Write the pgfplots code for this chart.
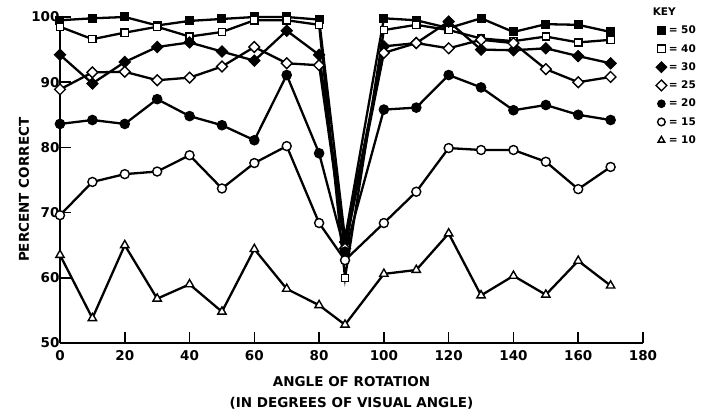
\documentclass[border=0pt]{standalone}
\usepackage{pgfplots}
\pgfplotsset{compat=1.18}
\usepackage{fontspec}
\setmainfont{DejaVu Sans}
\begin{document}
\begin{tikzpicture}
\useasboundingbox (-60pt,-69pt) rectangle (649pt,343pt);
\begin{axis}[
  scale only axis, width=583pt, height=326pt,
  xmin=0, xmax=180, ymin=50, ymax=100,
  axis x line*=bottom, axis y line*=left,
  axis line style={line width=1.8pt, -},
  xtick={0,20,...,180}, ytick={50,60,...,100},
  tick align=inside, major tick length=11pt,
  tick style={line width=1.5pt, black},
  /pgf/number format/assume math mode=true,
  ticklabel style={font=\bfseries\fontsize{13.5}{15}\selectfont},
  xticklabel style={yshift=-4pt},
  yticklabel style={xshift=3pt},
  xlabel={ANGLE OF ROTATION\\(IN DEGREES OF VISUAL ANGLE)},
  xlabel style={align=center, font=\bfseries\fontsize{13.5}{21}\selectfont, at={(axis description cs:0.5,-0.152)}, anchor=center},
  ylabel={PERCENT CORRECT},
  ylabel style={font=\bfseries\fontsize{13.5}{15}\selectfont, at={(axis description cs:-0.062,0.47)}, anchor=center, rotate=0},
  clip=false,
  every axis plot/.append style={line width=2.3pt, black, mark size=4.3pt},
  legend style={draw=none, fill=none, at={(axis description cs:1.022,1.035)}, anchor=north west,
    font=\bfseries\fontsize{10.5}{12}\selectfont, row sep=5pt, inner sep=0pt},
  legend cell align=left,
  legend image code/.code={\draw[#1, mark size=3.8pt] plot[only marks] coordinates {(0.12cm,0cm)};},
]
\addlegendimage{empty legend}
\addlegendentry{\hspace*{-16pt}KEY}
% 50
\addplot[mark=square*, mark options={solid, fill=black, line width=1pt}, mark size=4pt] coordinates {
(0,99.5) (10,99.8) (20,100) (30,98.7) (40,99.4) (50,99.7) (60,100) (70,100) (80,99.6) (88,66)
(100,99.8) (110,99.5) (120,98.3) (130,99.8) (140,97.7) (150,98.9) (160,98.8) (170,97.7)};
\addlegendentry{= 50}
% 40
\addplot[mark=square*, mark options={solid, fill=white, line width=1.4pt}, mark size=3.6pt] coordinates {
(0,98.5) (10,96.6) (20,97.6) (30,98.5) (40,97.0) (50,97.7) (60,99.5) (70,99.5) (80,98.8) (88,60)
(100,98.0) (110,98.8) (120,98.0) (130,96.7) (140,96.3) (150,97.0) (160,96.1) (170,96.5)};
\addlegendentry{= 40}
% 30
\addplot[mark=square*, mark options={solid, fill=black, line width=1pt, rotate=45}, mark size=4pt] coordinates {
(0,94.2) (10,89.8) (20,93.1) (30,95.4) (40,96.1) (50,94.7) (60,93.3) (70,97.9) (80,94.2) (88,65.5)
(100,95.5) (110,96.0) (120,99.3) (130,95.0) (140,94.9) (150,95.2) (160,94.0) (170,92.9)};
\addlegendentry{= 30}
% 25
\addplot[mark=square*, mark options={solid, fill=white, line width=1.4pt, rotate=45}, mark size=3.8pt] coordinates {
(0,88.9) (10,91.5) (20,91.6) (30,90.3) (40,90.7) (50,92.4) (60,95.4) (70,92.9) (80,92.6) (88,64.5)
(100,94.5) (110,96.0) (120,95.2) (130,96.5) (140,96.0) (150,92.0) (160,90.0) (170,90.8)};
\addlegendentry{= 25}
% 20
\addplot[mark=*, mark options={solid, fill=black, line width=1pt}, mark size=4.8pt] coordinates {
(0,83.6) (10,84.2) (20,83.6) (30,87.4) (40,84.8) (50,83.4) (60,81.1) (70,91.1) (80,79.1) (88,64)
(100,85.8) (110,86.1) (120,91.1) (130,89.2) (140,85.7) (150,86.5) (160,85.0) (170,84.2)};
\addlegendentry{= 20}
% 15
\addplot[mark=*, mark options={solid, fill=white, line width=1.4pt}, mark size=4.5pt] coordinates {
(0,69.6) (10,74.7) (20,75.9) (30,76.3) (40,78.8) (50,73.7) (60,77.6) (70,80.2) (80,68.4) (88,62.7)
(100,68.4) (110,73.2) (120,79.9) (130,79.6) (140,79.6) (150,77.8) (160,73.6) (170,77.0)};
\addlegendentry{= 15}
% 10
\addplot[mark=triangle*, mark options={solid, fill=white, line width=1.4pt}, mark size=4.8pt] coordinates {
(0,63.5) (10,53.8) (20,65.0) (30,56.8) (40,59.0) (50,54.8) (60,64.4) (70,58.3) (80,55.8) (88,52.8)
(100,60.6) (110,61.2) (120,66.8) (130,57.3) (140,60.3) (150,57.4) (160,62.6) (170,58.8)};
\addlegendentry{= 10}
\end{axis}
\end{tikzpicture}
\end{document}
